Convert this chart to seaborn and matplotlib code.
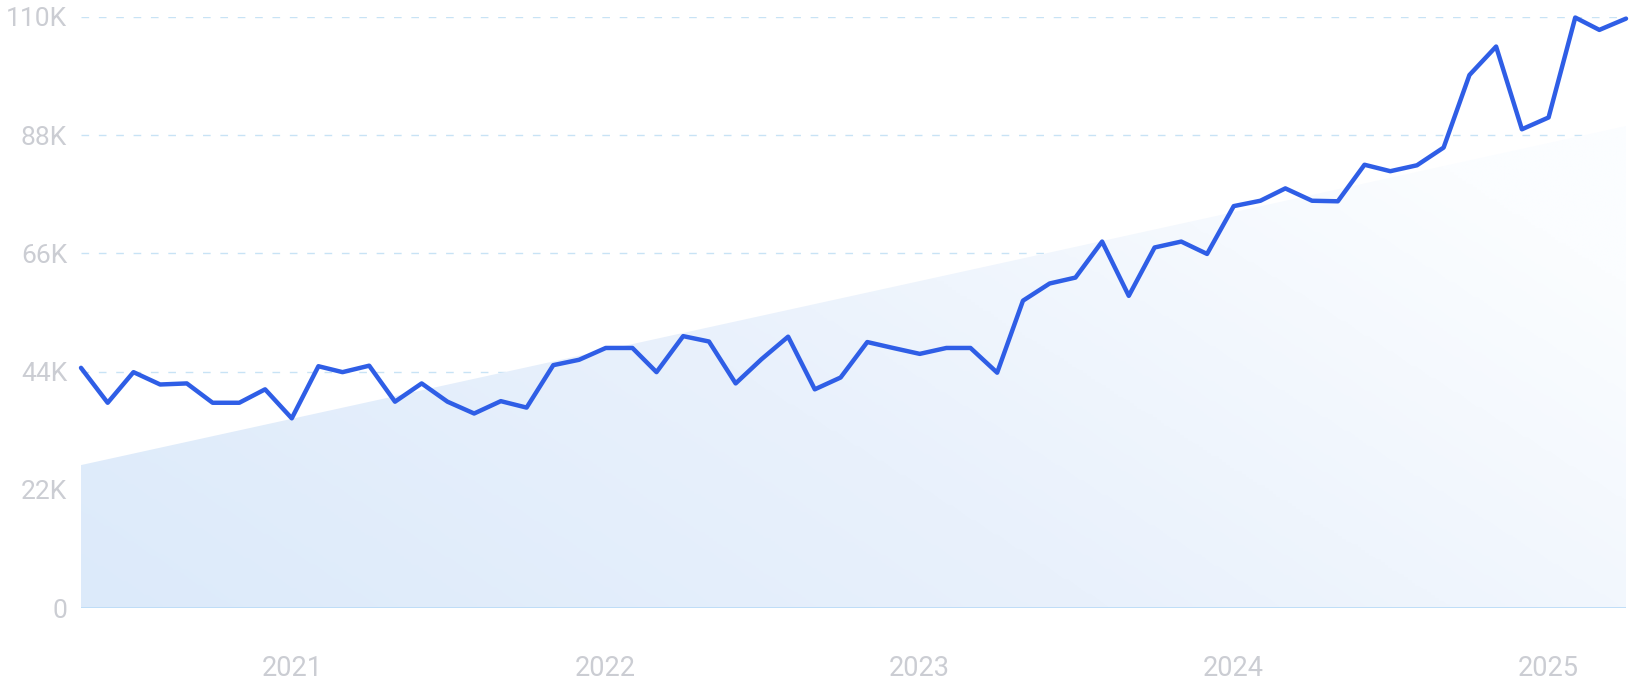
import numpy as np
import pandas as pd
import matplotlib
matplotlib.use("Agg")
import matplotlib.pyplot as plt
import matplotlib.dates as mdates
from matplotlib.colors import LinearSegmentedColormap
import seaborn as sns

# ---- data (thousands) ----
start_month = "2020-05-01"
values_k = [44.7, 38.2, 43.9, 41.6, 41.8, 38.2, 38.2, 40.7, 35.3, 45.0,
            43.9, 45.1, 38.4, 41.8, 38.4, 36.2, 38.5, 37.3, 45.2, 46.2,
            48.4, 48.4, 43.9, 50.6, 49.6, 41.8, 46.3, 50.5, 40.7, 42.9,
            49.5, 48.4, 47.3, 48.4, 48.4, 43.8, 57.2, 60.4, 61.5, 68.2,
            58.1, 67.1, 68.2, 65.9, 74.8, 75.8, 78.1, 75.8, 75.7, 82.5,
            81.3, 82.4, 85.7, 99.2, 104.5, 89.1, 91.3, 109.9, 107.6, 109.7]
trend_k = [26.6, 89.7]
y_ticks = [0, 22000, 44000, 66000, 88000, 110000]
y_tick_labels = ["0", "22K", "44K", "66K", "88K", "110K"]
x_tick_years = [2021, 2022, 2023, 2024, 2025]

dates = pd.date_range(start_month, periods=len(values_k), freq="MS")
df = pd.DataFrame({"date": dates, "value": np.array(values_k) * 1000})

sns.set_theme(style="white")
plt.rcParams["font.family"] = ["Roboto", "DejaVu Sans"]

fig = plt.figure(figsize=(16.31, 7.0), dpi=100)
ax = fig.add_axes([81 / 1631, 92 / 700, (1626 - 81) / 1631, (608 - 17) / 700])

# trend area with diagonal gradient
xnum = mdates.date2num(dates)
x0, x1 = xnum[0], xnum[-1]
trend_y = np.interp(xnum, [x0, x1], np.array(trend_k) * 1000)
poly = ax.fill_between(xnum, 0, trend_y, color="none", lw=0, zorder=1)

ny, nx = 200, 400
gx = np.linspace(0, 1, nx)[None, :]
gy = np.linspace(0, 1, ny)[:, None]
t = np.clip(0.75 * gx + 0.45 * gy, 0, 1)
cmap = LinearSegmentedColormap.from_list("g", ["#dceafa", "#e9f1fc", "#fbfdff"])
img = ax.imshow(t, cmap=cmap, extent=[x0, x1, 0, 110000], origin="lower",
                aspect="auto", zorder=1, interpolation="bilinear")
path = poly.get_paths()[0]
img.set_clip_path(path, ax.transData)

# grid lines
for yv in y_ticks[1:]:
    ax.axhline(yv, color="#c8e3f5", lw=1.0, ls=(0, (5.5, 7)), zorder=0.5)
ax.axhline(0, color="#bcdcf7", lw=1.3, zorder=2)

sns.lineplot(data=df, x=xnum, y="value", ax=ax, color="#2f5ee6", lw=3.2,
             zorder=3, clip_on=False)
for l in ax.lines[-1:]:
    l.set_solid_joinstyle("round")
    l.set_solid_capstyle("round")

ax.set_xlim(x0, x1)
ax.set_ylim(0, 110000)
ax.set_yticks(y_ticks)
ax.set_yticklabels(y_tick_labels)
ax.set_xticks([mdates.date2num(pd.Timestamp(f"{y}-01-01")) for y in x_tick_years])
ax.set_xticklabels([str(y) for y in x_tick_years])
ax.tick_params(axis="y", length=0, pad=10, labelsize=19, labelcolor="#cbcdd3")
ax.tick_params(axis="x", length=0, pad=34, labelsize=19.5, labelcolor="#cbcdd3")
ax.set_xlabel("")
ax.set_ylabel("")
for s in ax.spines.values():
    s.set_visible(False)
ax.grid(False)

fig.savefig("out.png", dpi=100, facecolor="white")
